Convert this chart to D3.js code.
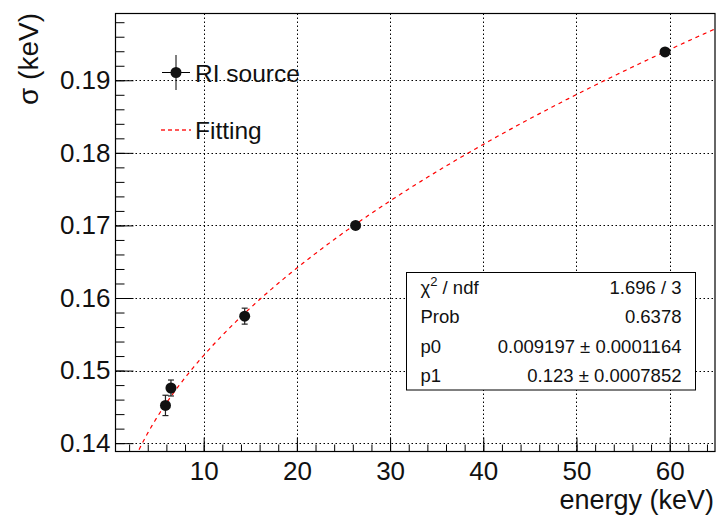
<!DOCTYPE html>
<html lang="en">
<head>
  <meta charset="utf-8">
  <title>sigma vs energy</title>
  <script src="https://d3js.org/d3.v7.min.js"></script>
</head>
<style>
body {
  margin: 0;
  background: white;
  font-family: "Liberation Sans", Arial, sans-serif;
}
</style>
<body>
<script>
// measured points: energy (keV), sigma (keV), sigma error
var energy = [5.9, 6.49, 14.4, 26.3, 59.5];
var sigma = [0.1452, 0.1476, 0.1575, 0.1700, 0.1939];
var sigmaErr = [0.0014, 0.0011, 0.0011, 0.0003, 0.0003];

// fit result, sigma = p0*sqrt(E) + p1
var p0 = 0.009197, p1 = 0.123;
var statLabels = ["Prob", "p0", "p1"];
var statValues = ["0.6378", "0.009197 \u00b1 0.0001164", "0.123 \u00b1 0.0007852"];

var xTicks = [10, 20, 30, 40, 50, 60];
var yTicks = [0.14, 0.15, 0.16, 0.17, 0.18, 0.19];

var w = 718, h = 522;
var fLeft = 115.5, fRight = 715, fTop = 13.5, fBottom = 451.5;

var svg = d3.select("body").append("svg")
  .attr("width", w)
  .attr("height", h);

var x = d3.scaleLinear().domain([0.54, 64.86]).range([fLeft, fRight]);
var y = d3.scaleLinear().domain([0.13885, 0.1992]).range([fBottom, fTop]);

svg.append("clipPath").attr("id", "frame")
  .append("rect")
  .attr("x", fLeft).attr("y", fTop)
  .attr("width", fRight - fLeft).attr("height", fBottom - fTop);

// grid
var grid = svg.append("g")
  .attr("stroke", "#000")
  .attr("stroke-width", 1)
  .attr("stroke-dasharray", "1.5,2.5");
grid.selectAll(".gx").data(xTicks).enter().append("line")
  .attr("x1", function(d) { return Math.round(x(d)) + 0.5; })
  .attr("x2", function(d) { return Math.round(x(d)) + 0.5; })
  .attr("y1", fTop).attr("y2", fBottom);
grid.selectAll(".gy").data(yTicks).enter().append("line")
  .attr("y1", function(d) { return Math.round(y(d)) + 0.5; })
  .attr("y2", function(d) { return Math.round(y(d)) + 0.5; })
  .attr("x1", fLeft).attr("x2", fRight);

// axes, ticks pointing inside
var xAxis = d3.axisBottom(x).tickValues(d3.range(2, 65, 2))
  .tickSize(-7).tickFormat("");
var xMajor = d3.axisBottom(x).tickValues(xTicks)
  .tickSize(-14).tickPadding(10).tickFormat(d3.format("d"));
var yAxis = d3.axisLeft(y).tickValues(d3.range(0.14, 0.199, 0.002))
  .tickSize(-9).tickFormat("");
var yMajor = d3.axisLeft(y).tickValues(yTicks)
  .tickSize(-18).tickPadding(5).tickFormat(d3.format(".2f"));

[xAxis, xMajor].forEach(function(a) {
  svg.append("g").attr("transform", "translate(0," + fBottom + ")").call(a);
});
[yAxis, yMajor].forEach(function(a) {
  svg.append("g").attr("transform", "translate(" + fLeft + ",0)").call(a);
});
svg.selectAll(".domain").remove();
svg.selectAll(".tick line").attr("stroke", "#000");
svg.selectAll(".tick text")
  .attr("fill", "#111")
  .style("font-size", "26px")
  .style("font-family", "'Liberation Sans', Arial, sans-serif");

// frame
svg.append("rect")
  .attr("x", fLeft).attr("y", fTop)
  .attr("width", fRight - fLeft).attr("height", fBottom - fTop)
  .attr("fill", "none").attr("stroke", "#000").attr("stroke-width", 1.2);

// fit curve
var curveX = d3.range(0.54, 64.9, 0.1);
var line = d3.line()
  .x(function(d) { return x(d); })
  .y(function(d) { return y(p0 * Math.sqrt(d) + p1); });
svg.append("path")
  .datum(curveX)
  .attr("clip-path", "url(#frame)")
  .attr("d", line)
  .attr("fill", "none")
  .attr("stroke", "#ff0000")
  .attr("stroke-width", 1.2)
  .attr("stroke-dasharray", "4,4");

// points with error bars
var pts = svg.append("g");
energy.forEach(function(e, i) {
  var cx = x(e), lo = y(sigma[i] - sigmaErr[i]), hi = y(sigma[i] + sigmaErr[i]);
  var g = pts.append("g").attr("stroke", "#222").attr("stroke-width", 1.2);
  g.append("line").attr("x1", cx).attr("x2", cx).attr("y1", lo).attr("y2", hi);
  g.append("line").attr("x1", cx - 3).attr("x2", cx + 3).attr("y1", lo).attr("y2", lo);
  g.append("line").attr("x1", cx - 3).attr("x2", cx + 3).attr("y1", hi).attr("y2", hi);
  pts.append("circle").attr("cx", cx).attr("cy", y(sigma[i])).attr("r", 5.5).attr("fill", "#111");
});

// legend
var lg = svg.append("g");
lg.append("line").attr("x1", 162).attr("x2", 190).attr("y1", 72.5).attr("y2", 72.5).attr("stroke", "#000");
lg.append("line").attr("x1", 176).attr("x2", 176).attr("y1", 55).attr("y2", 90).attr("stroke", "#000");
lg.append("circle").attr("cx", 176).attr("cy", 72.5).attr("r", 5.5).attr("fill", "#111");
lg.append("text").attr("x", 195).attr("y", 81.5).attr("fill", "#111").style("font-size", "24.5px").text("RI source");
lg.append("path").attr("d", "M161,130H191")
  .attr("fill", "none")
  .attr("stroke", "#ff2020").attr("stroke-width", 1.5).attr("stroke-dasharray", "4,3");
lg.append("text").attr("x", 195).attr("y", 138.5).attr("fill", "#111").style("font-size", "24.5px").text("Fitting");

// stats box
var sb = svg.append("g").style("font-size", "18.5px").attr("fill", "#111");
sb.append("rect").attr("x", 406.5).attr("y", 272.5).attr("width", 289).attr("height", 117.5)
  .attr("fill", "white").attr("stroke", "#000").attr("stroke-width", 1);
var chi = sb.append("text").attr("x", 420.5).attr("y", 293.5);
chi.append("tspan").text("\u03c7");
chi.append("tspan").attr("dy", -8).style("font-size", "13px").text("2");
chi.append("tspan").attr("dy", 8).text(" / ndf");
sb.append("text").attr("x", 681.5).attr("y", 293.5).attr("text-anchor", "end").text("1.696 / 3");
statLabels.forEach(function(s, i) {
  var by = 323.3 + i * 29.2;
  sb.append("text").attr("x", 420.5).attr("y", by).text(s);
  sb.append("text").attr("x", 681.5).attr("y", by).attr("text-anchor", "end").text(statValues[i]);
});

// axis titles
svg.append("text").attr("x", 714).attr("y", 508.5).attr("text-anchor", "end")
  .attr("fill", "#111").style("font-size", "27px").text("energy (keV)");
svg.append("text").attr("transform", "translate(38,13) rotate(-90)")
  .attr("text-anchor", "end").attr("fill", "#111").style("font-size", "28px").text("\u03c3 (keV)");
</script>
</body>
</html>
